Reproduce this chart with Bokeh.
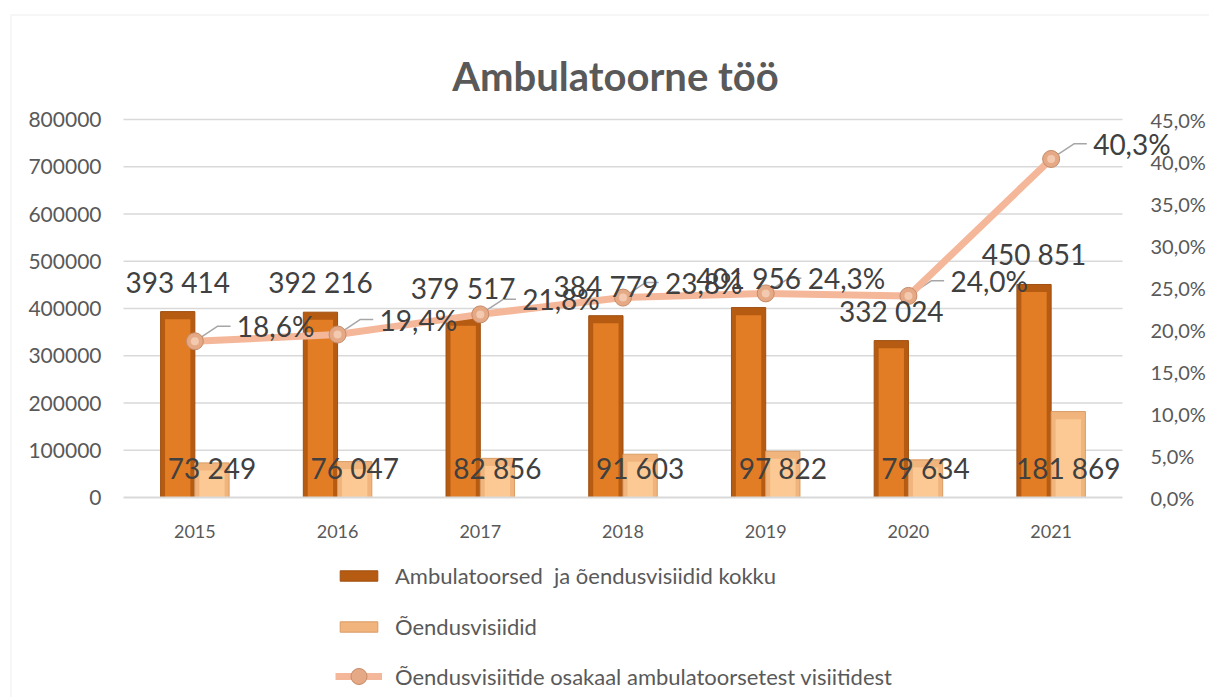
from bokeh.plotting import figure
from bokeh.models import (Range1d, LinearAxis, FixedTicker, NumeralTickFormatter,
                          ColumnDataSource, Legend, LegendItem, BoxAnnotation)
from bokeh.core.properties import value
from bokeh.embed import file_html
from bokeh.resources import INLINE

# ---------------- data ----------------
years = ["2015", "2016", "2017", "2018", "2019", "2020", "2021"]
total_visits = [393414, 392216, 379517, 384779, 401956, 332024, 450851]
nurse_visits = [73249, 76047, 82856, 91603, 97822, 79634, 181869]
nurse_share = [18.6, 19.4, 21.8, 23.8, 24.3, 24.0, 40.3]
left_ticks = [0, 100000, 200000, 300000, 400000, 500000, 600000, 700000, 800000]
right_ticks = [0, 5, 10, 15, 20, 25, 30, 35, 40, 45]

series_names = ["Ambulatoorsed  ja õendusvisiidid kokku",
                "Õendusvisiidid",
                "Õendusvisiitide osakaal ambulatoorsetest visiitidest"]
title_text = "Ambulatoorne töö"

def fmt_thousands(v):
    return f"{v:,}".replace(",", " ")

def fmt_pct(v):
    return f"{v:.1f}".replace(".", ",") + "%"

FONT = "Lato"
TXT = "#595959"
LBL = "#404040"

# ---------------- layout (page pixels) ----------------
W, H = 1209, 697
PA_LEFT, PA_BOTTOM = 123, 497      # chart area's lower-left corner
PLOT_W, PLOT_H = 999, 378          # chart area size
n = len(years)
cat_px = PLOT_W / n
y_max = left_ticks[-1]
p_max = right_ticks[-1]

def px_x(px):
    return (px - PA_LEFT) / cat_px - 0.5

def px_y(py):
    return (PA_BOTTOM - py) / PLOT_H * y_max

def px_p(py):
    return (PA_BOTTOM - py) / PLOT_H * p_max

plot_left, plot_right = -0.5, n - 0.5

xs = list(range(n))
bw = 0.24
bevel = 0.02 * y_max
src = ColumnDataSource(dict(
    x=xs,
    x_tot=[x - bw / 2 for x in xs],
    x_nur=[x + bw / 2 for x in xs],
    tot=total_visits,
    nur=nurse_visits,
    tot_in=[v - bevel for v in total_visits],
    nur_in=[v - bevel for v in nurse_visits],
    zero=[0] * n,
    pct=nurse_share,
    tot_lbl=[fmt_thousands(v) for v in total_visits],
    nur_lbl=[fmt_thousands(v) for v in nurse_visits],
    pct_lbl=[fmt_pct(v) for v in nurse_share],
))

p = figure(width=W, height=H, output_backend="svg", toolbar_location=None,
           x_range=Range1d(px_x(0), px_x(W)), y_range=Range1d(px_y(H), px_y(0)),
           min_border=0, outline_line_color=None, title_location=None,
           background_fill_color="white", border_fill_color="white",
           x_axis_location=None, y_axis_location=None)
p.extra_y_ranges = {"pct": Range1d(px_p(H), px_p(0))}
p.xgrid.visible = False
p.ygrid.visible = False

# outer chart border
p.add_layout(BoxAnnotation(left=px_x(10.5), right=px_x(W + 20),
                           top=px_y(14.5), bottom=px_y(H + 20),
                           fill_color=None, line_color="#d9d9d9",
                           line_width=1.5))

# title
p.text(x=[px_x(615)], y=[px_y(75)], text=[title_text], text_align="center",
       text_baseline="alphabetic", text_font=value(FONT), text_font_size="40px",
       text_font_style="bold", text_color=TXT)

# horizontal grid lines limited to the chart area
grid_ticks = left_ticks[1:]
p.segment(x0=[plot_left] * len(grid_ticks), x1=[plot_right] * len(grid_ticks),
          y0=grid_ticks, y1=grid_ticks, line_color="#d9d9d9", line_width=1.5)

# bottom category axis, fixed at y = 0
xa = LinearAxis(ticker=FixedTicker(ticks=xs), fixed_location=0,
                bounds=(plot_left, plot_right))
xa.major_label_overrides = {i: y for i, y in enumerate(years)}
xa.major_label_text_font = FONT
xa.major_label_text_font_size = "18px"
xa.major_label_text_color = TXT
xa.major_tick_line_color = None
xa.minor_tick_line_color = None
xa.axis_line_color = "#d9d9d9"
xa.axis_line_width = 2
xa.major_label_standoff = 21
p.add_layout(xa, "below")

# left axis
la = LinearAxis(ticker=FixedTicker(ticks=left_ticks), fixed_location=plot_left,
                formatter=NumeralTickFormatter(format="0"))
la.major_label_text_font = FONT
la.major_label_text_font_size = "21px"
la.major_label_text_color = TXT
la.major_tick_line_color = None
la.minor_tick_line_color = None
la.axis_line_color = None
la.major_label_standoff = 16
p.add_layout(la, "left")

# right axis
ra = LinearAxis(y_range_name="pct", ticker=FixedTicker(ticks=right_ticks),
                fixed_location=plot_right)
ra.major_label_overrides = {t: fmt_pct(t) for t in right_ticks}
ra.major_label_text_font = FONT
ra.major_label_text_font_size = "20px"
ra.major_label_text_color = TXT
ra.major_tick_line_color = None
ra.minor_tick_line_color = None
ra.axis_line_color = None
ra.major_label_standoff = 22
p.add_layout(ra, "right")

# bars: total
r_tot = p.vbar(x="x_tot", top="tot", bottom="zero", width=bw, source=src,
               fill_color="#b65b12", line_color="#a04f10", line_width=1)
p.vbar(x="x_tot", top="tot_in", bottom="zero", width=bw * 0.74, source=src,
       fill_color="#e27d25", line_color=None)
# bars: nurse
r_nur = p.vbar(x="x_nur", top="nur", bottom="zero", width=bw, source=src,
               fill_color="#f0b47c", line_color="#d99c66", line_width=1)
p.vbar(x="x_nur", top="nur_in", bottom="zero", width=bw * 0.74, source=src,
       fill_color="#fcc995", line_color=None)

# line with leader lines to its labels
lead_dx1, lead_dx2, lead_dy = 0.16, 0.25, 1.8
p.multi_line(xs=[[x, x + lead_dx1, x + lead_dx2] for x in xs],
             ys=[[v, v + lead_dy, v + lead_dy] for v in nurse_share],
             y_range_name="pct", line_color="#a6a6a6", line_width=1.5)
r_line = p.line(x="x", y="pct", source=src, y_range_name="pct",
                line_color="#f5b799", line_width=7)
r_mark = p.scatter(x="x", y="pct", source=src, y_range_name="pct", size=17,
                   fill_color="#e6a985", line_color="#c68a69", line_width=1)
p.scatter(x="x", y="pct", source=src, y_range_name="pct", size=8,
          fill_color="#f3c9af", line_color=None)

# labels
p.text(x="x_tot", y="tot", text="tot_lbl", source=src, text_align="center",
       text_baseline="middle", y_offset=-30, text_font=value(FONT),
       text_font_size="28px", text_color=LBL)
p.text(x="x_nur", y="zero", text="nur_lbl", source=src, text_align="center",
       text_baseline="middle", y_offset=-30, text_font=value(FONT),
       text_font_size="28px", text_color=LBL)
p.text(x="x", y="pct", text="pct_lbl", source=src, y_range_name="pct",
       text_align="left", text_baseline="middle", x_offset=42, y_offset=-15,
       text_font=value(FONT), text_font_size="28px", text_color=LBL)

# legends
leg_style = dict(orientation="vertical", glyph_width=47, label_height=24,
                 label_standoff=13, padding=0, margin=0,
                 border_line_color=None, background_fill_alpha=0,
                 label_text_font=FONT, label_text_font_size="22px",
                 label_text_color=TXT)
leg_bars = Legend(items=[
    LegendItem(label=series_names[0], renderers=[r_tot]),
    LegendItem(label=series_names[1], renderers=[r_nur]),
], location=(335, 57), glyph_height=13, spacing=24, **leg_style)
leg_line = Legend(items=[
    LegendItem(label=series_names[2], renderers=[r_line, r_mark]),
], location=(335, 1), glyph_height=40, spacing=0, **leg_style)
p.add_layout(leg_bars, "center")
p.add_layout(leg_line, "center")

open("out.html", "w").write(file_html(p, INLINE))
